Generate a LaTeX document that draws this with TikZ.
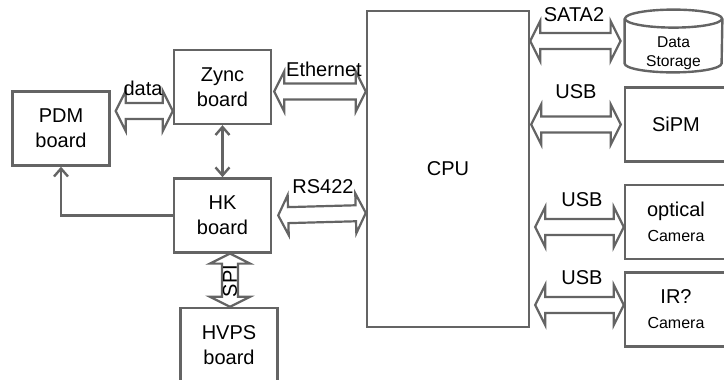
\documentclass[tikz,border=0pt]{standalone}
\usepackage{fontspec}
\setmainfont{Liberation Sans}
\usepackage{tikz}
\usetikzlibrary{shapes,arrows.meta,positioning,calc}
\definecolor{linegray}{RGB}{100, 100, 100}

\begin{document}
\begin{tikzpicture}[
    x=0.5pt, y=-0.5pt,
    every node/.style={align=center},
    board/.style={rectangle, draw=linegray, line width=1.2pt, minimum width=48.5pt, minimum height=37pt, text centered, font=\fontsize{10}{12.5}\selectfont},
    device/.style={board, minimum width=51pt},
    lbl/.style={inner sep=0pt, font=\fontsize{10}{12}\selectfont},
    small/.style={font=\fontsize{7.8}{9.5}\selectfont},
    disk/.style={draw=linegray, line width=1.2pt},
    thinlink/.style={draw=linegray, line width=1.2pt, arrows={[length=4pt, width=7pt]}},
    fatlink/.style={draw=linegray, line width=1.1pt, fill=white, line join=miter,
        to path={(\tikztostart)
        -- ($(\tikztostart)!5pt!(\tikztotarget)!10pt!90:(\tikztotarget)$)
        -- ($(\tikztostart)!5pt!(\tikztotarget)!4pt!90:(\tikztotarget)$)
        -- ($(\tikztotarget)!5pt!(\tikztostart)!4pt!-90:(\tikztostart)$)
        -- ($(\tikztotarget)!5pt!(\tikztostart)!10pt!-90:(\tikztostart)$)
        -- (\tikztotarget)
        -- ($(\tikztotarget)!5pt!(\tikztostart)!10pt!90:(\tikztostart)$)
        -- ($(\tikztotarget)!5pt!(\tikztostart)!4pt!90:(\tikztostart)$)
        -- ($(\tikztostart)!5pt!(\tikztotarget)!4pt!-90:(\tikztotarget)$)
        -- ($(\tikztostart)!5pt!(\tikztotarget)!10pt!-90:(\tikztotarget)$)
        -- cycle}}
]
\useasboundingbox (0,0) rectangle (724,380);

% Boards
\node[board] (pdm) at (61,128.5) {PDM\\board};
\node[board] (zync) at (222.5,87) {Zync\\board};
\node[board, below=26pt of zync] (hk) {HK\\board};
\node[board] (hvps) at (229,345) {HVPS\\board};

% Computer
\node[board, minimum width=81pt, minimum height=158pt] (cpu) at (448,169) {CPU};

% Devices
\node[minimum width=48.5pt, minimum height=31pt, inner sep=0pt,
      label={[small, yshift=-6pt]center:Data\\Storage}] (store) at (673.5,41) {};
\draw[disk] ([yshift=-4.5pt]store.north) ellipse [x radius=24.25pt, y radius=4.5pt];
\draw[disk] ([yshift=-4.5pt]store.north west) -- ([yshift=4.5pt]store.south west)
    arc[start angle=180, end angle=360, x radius=24.25pt, y radius=4.5pt]
    -- ([yshift=-4.5pt]store.north east);
\node[device] (sipm) at (676,124.5) {SiPM};
\node[device] (optical) at (676,222) {optical\\{\fontsize{8}{9.5}\selectfont Camera}};
\node[device] (ir) at (676,309.5) {IR?\\{\fontsize{8}{9.5}\selectfont Camera}};

% Buses
\draw[fatlink] ([shift={(2.5pt,8.75pt)}]pdm.east) to ([yshift=-12pt]zync.west);
\draw[fatlink] ([shift={(1pt,-2.25pt)}]zync.east) to ([yshift=38.75pt]cpu.west);
\draw[fatlink] ([xshift=3pt]hk.east) to ([yshift=-22pt]cpu.west);
\draw[fatlink] ([xshift=3.75pt]hk.south) to ([xshift=0.5pt]hvps.north);
\draw[fatlink] ([yshift=64pt]cpu.east) to ([xshift=-2pt]store.west);
\draw[fatlink] ([shift={(0.5pt,22.25pt)}]cpu.east) to ([xshift=-1.5pt]sipm.west);
\draw[fatlink] ([shift={(2.5pt,-29pt)}]cpu.east) to ([yshift=-2.5pt]optical.west);
\draw[fatlink] ([shift={(2.5pt,-68pt)}]cpu.east) to ([yshift=2.25pt]ir.west);

% Control lines
\draw[thinlink, {Straight Barb}-{Straight Barb}] (zync.south) -- (hk.north);
\draw[thinlink, -{Straight Barb}] (hk.west) -| (pdm.south);

% Bus labels
\node[lbl] (datalbl) at (143,88) {data};
\node[lbl] (ethlbl) at (324,69) {Ethernet};
\node[lbl] (rslbl) at (323,187) {RS422};
\node[lbl, rotate=90] (spilbl) at (230,281) {SPI};
\node[lbl] (satalbl) at (574,14.5) {SATA2};
\node[lbl] (usbalbl) at (576,92) {USB};
\node[lbl] (usbblbl) at (582,200) {USB};
\node[lbl] (usbclbl) at (582,278) {USB};

\end{tikzpicture}
\end{document}
